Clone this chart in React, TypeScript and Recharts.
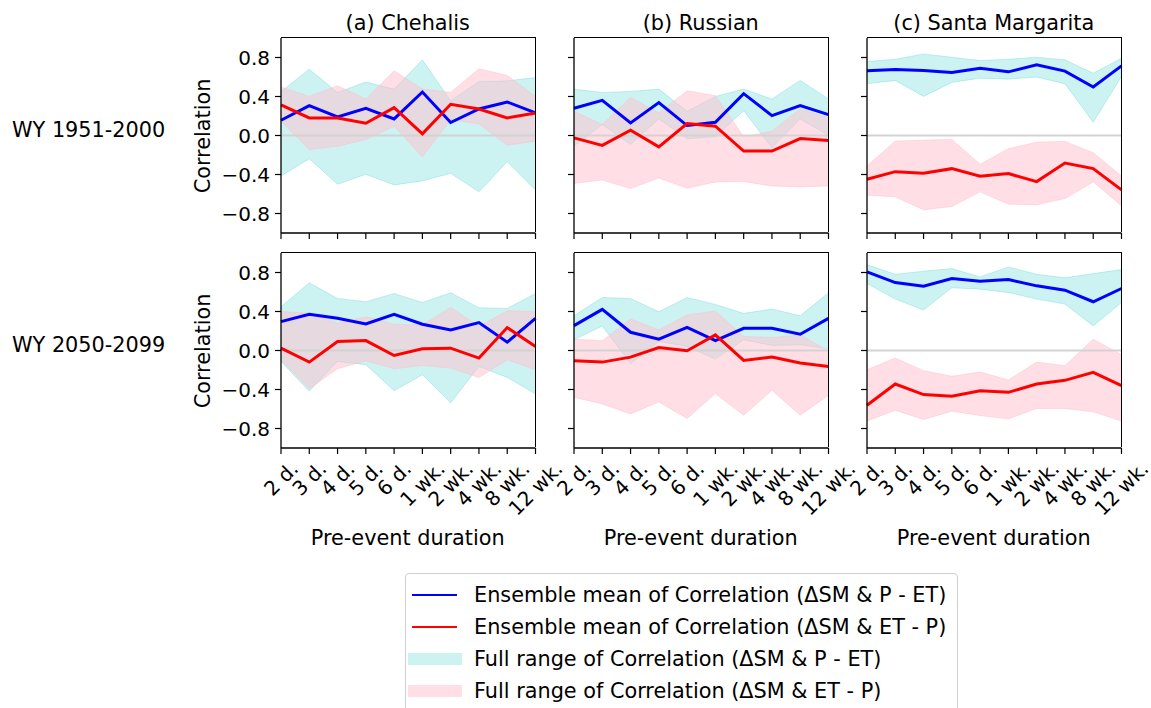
import { ComposedChart, Area, Line, XAxis, YAxis, ReferenceLine } from 'recharts';

// pre-event windows on the x axis
const durations = ['2 d.', '3 d.', '4 d.', '5 d.', '6 d.', '1 wk.', '2 wk.', '4 wk.', '8 wk.', '12 wk.'];
const corrTicks = [-0.8, -0.4, 0, 0.4, 0.8];

// Chehalis, WY 1951-2000
const cheHistPetMean = [0.156, 0.306, 0.19, 0.279, 0.17, 0.446, 0.133, 0.272, 0.344, 0.231];
const cheHistEtpMean = [0.313, 0.18, 0.18, 0.126, 0.286, 0.017, 0.32, 0.272, 0.18, 0.231];
const cheHistPetMin = [-0.415, -0.238, -0.5, -0.398, -0.507, -0.466, -0.388, -0.578, -0.269, -0.558];
const cheHistPetMax = [0.452, 0.68, 0.442, 0.548, 0.476, 0.776, 0.357, 0.554, 0.561, 0.595];
const cheHistEtpMin = [0.146, -0.143, -0.109, -0.041, 0.095, -0.218, 0.163, 0.119, -0.099, -0.058];
const cheHistEtpMax = [0.497, 0.401, 0.51, 0.374, 0.663, 0.476, 0.442, 0.684, 0.616, 0.401];

// Russian, WY 1951-2000
const rusHistPetMean = [0.279, 0.36, 0.129, 0.337, 0.102, 0.136, 0.429, 0.204, 0.306, 0.214];
const rusHistEtpMean = [-0.024, -0.102, 0.054, -0.116, 0.122, 0.095, -0.16, -0.16, -0.031, -0.051];
const rusHistPetMin = [-0.109, 0.112, -0.092, 0.17, -0.034, -0.014, 0.255, -0.126, 0.17, 0.0];
const rusHistPetMax = [0.476, 0.442, 0.452, 0.476, 0.248, 0.401, 0.476, 0.374, 0.565, 0.374];
const rusHistEtpMin = [-0.49, -0.456, -0.544, -0.435, -0.541, -0.476, -0.473, -0.517, -0.527, -0.517];
const rusHistEtpMax = [0.248, 0.112, 0.391, 0.231, 0.459, 0.408, -0.014, 0.044, 0.272, 0.18];

// Santa Margarita, WY 1951-2000
const smHistPetMean = [0.663, 0.677, 0.667, 0.646, 0.69, 0.653, 0.724, 0.66, 0.497, 0.714];
const smHistEtpMean = [-0.449, -0.371, -0.388, -0.34, -0.418, -0.391, -0.473, -0.282, -0.34, -0.558];
const smHistPetMin = [0.531, 0.565, 0.401, 0.544, 0.588, 0.578, 0.599, 0.531, 0.136, 0.605];
const smHistPetMax = [0.759, 0.782, 0.837, 0.803, 0.769, 0.782, 0.803, 0.776, 0.639, 0.793];
const smHistEtpMin = [-0.612, -0.629, -0.762, -0.728, -0.578, -0.704, -0.711, -0.646, -0.476, -0.721];
const smHistEtpMax = [-0.313, -0.058, -0.048, -0.041, -0.296, -0.136, -0.068, -0.061, -0.177, -0.415];

// Chehalis, WY 2050-2099
const cheFutPetMean = [0.296, 0.371, 0.33, 0.272, 0.371, 0.269, 0.211, 0.286, 0.085, 0.33];
const cheFutEtpMean = [0.024, -0.119, 0.092, 0.102, -0.051, 0.017, 0.024, -0.078, 0.235, 0.041];
const cheFutPetMin = [-0.112, -0.418, -0.112, -0.146, -0.412, -0.248, -0.537, -0.163, -0.276, -0.446];
const cheFutPetMax = [0.449, 0.694, 0.534, 0.5, 0.585, 0.493, 0.592, 0.439, 0.432, 0.585];
const cheFutEtpMin = [-0.1, -0.391, -0.187, -0.105, -0.187, -0.153, -0.18, -0.276, -0.095, -0.197];
const cheFutEtpMax = [0.4, 0.381, 0.279, 0.347, 0.269, 0.262, 0.442, 0.245, 0.408, 0.398];

// Russian, WY 2050-2099
const rusFutPetMean = [0.255, 0.422, 0.187, 0.116, 0.238, 0.102, 0.228, 0.228, 0.167, 0.33];
const rusFutEtpMean = [-0.105, -0.119, -0.068, 0.031, -0.003, 0.16, -0.102, -0.068, -0.129, -0.163];
const rusFutPetMin = [0.109, 0.252, -0.136, 0.092, 0.041, -0.088, 0.109, 0.051, 0.058, 0.017];
const rusFutPetMax = [0.357, 0.544, 0.534, 0.398, 0.544, 0.473, 0.381, 0.425, 0.357, 0.592];
const rusFutEtpMin = [-0.48, -0.548, -0.65, -0.527, -0.697, -0.442, -0.663, -0.408, -0.663, -0.459];
const rusFutEtpMax = [0.116, 0.099, 0.323, 0.211, 0.364, 0.405, 0.143, 0.133, 0.16, -0.003];

// Santa Margarita, WY 2050-2099
const smFutPetMean = [0.806, 0.697, 0.66, 0.738, 0.711, 0.728, 0.663, 0.619, 0.5, 0.636];
const smFutEtpMean = [-0.561, -0.344, -0.452, -0.469, -0.412, -0.429, -0.344, -0.306, -0.224, -0.361];
const smFutPetMin = [0.687, 0.527, 0.415, 0.643, 0.629, 0.595, 0.527, 0.476, 0.252, 0.493];
const smFutPetMax = [0.881, 0.782, 0.813, 0.84, 0.755, 0.857, 0.782, 0.745, 0.789, 0.83];
const smFutEtpMin = [-0.724, -0.612, -0.707, -0.622, -0.667, -0.701, -0.595, -0.595, -0.629, -0.724];
const smFutEtpMax = [-0.197, -0.078, -0.207, -0.265, -0.221, -0.303, -0.119, -0.156, 0.116, -0.044];

const basinTitles = ['(a) Chehalis', '(b) Russian', '(c) Santa Margarita'];
const periodLabels = ['WY 1951-2000', 'WY 2050-2099'];

const BLUE = '#0000ff';
const RED = '#ff0000';
const CYAN = '#00bfbf';
const PINK = '#ffc0cb';

const legendItems = [
  { kind: 'line', color: BLUE, label: 'Ensemble mean of Correlation (ΔSM & P - ET)' },
  { kind: 'line', color: RED, label: 'Ensemble mean of Correlation (ΔSM & ET - P)' },
  { kind: 'fill', color: 'rgba(0,191,191,0.2)', label: 'Full range of Correlation (ΔSM & P - ET)' },
  { kind: 'fill', color: 'rgba(255,192,203,0.5)', label: 'Full range of Correlation (ΔSM & ET - P)' },
];

type Series = { petMean: number[]; etpMean: number[]; petMin: number[]; petMax: number[]; etpMin: number[]; etpMax: number[] };

const panels: { row: number; col: number; s: Series }[] = [
  { row: 0, col: 0, s: { petMean: cheHistPetMean, etpMean: cheHistEtpMean, petMin: cheHistPetMin, petMax: cheHistPetMax, etpMin: cheHistEtpMin, etpMax: cheHistEtpMax } },
  { row: 0, col: 1, s: { petMean: rusHistPetMean, etpMean: rusHistEtpMean, petMin: rusHistPetMin, petMax: rusHistPetMax, etpMin: rusHistEtpMin, etpMax: rusHistEtpMax } },
  { row: 0, col: 2, s: { petMean: smHistPetMean, etpMean: smHistEtpMean, petMin: smHistPetMin, petMax: smHistPetMax, etpMin: smHistEtpMin, etpMax: smHistEtpMax } },
  { row: 1, col: 0, s: { petMean: cheFutPetMean, etpMean: cheFutEtpMean, petMin: cheFutPetMin, petMax: cheFutPetMax, etpMin: cheFutEtpMin, etpMax: cheFutEtpMax } },
  { row: 1, col: 1, s: { petMean: rusFutPetMean, etpMean: rusFutEtpMean, petMin: rusFutPetMin, petMax: rusFutPetMax, etpMin: rusFutEtpMin, etpMax: rusFutEtpMax } },
  { row: 1, col: 2, s: { petMean: smFutPetMean, etpMean: smFutEtpMean, petMin: smFutPetMin, petMax: smFutPetMax, etpMin: smFutEtpMin, etpMax: smFutEtpMax } },
];

// layout (page pixels)
const FONT = 'DejaVu Sans';
const FS = 20.8;
const TICK_FS = 20;
const COL_LEFT = [280.5, 573.5, 866.5];
const ROW_TOP = [38, 253];
const PLOT_W = 254.5;
const PLOT_H = 195;
const AXIS_W = 80;
const PAD = 6;
const RIGHT_PAD = 29; // room for the last rotated tick label (stays inside the page)
const SPINE = 1.3;

// DejaVu Sans advance widths (em) for the tick label characters
const charW: Record<string, number> = { ' ': 0.318, '.': 0.318, d: 0.635, w: 0.818, k: 0.579 };
const textWidth = (s: string, fs: number) =>
  s.split('').reduce((acc, ch) => acc + (charW[ch] ?? 0.636), 0) * fs;

const fmtCorr = (v: number) => (v < 0 ? '\u2212' + Math.abs(v).toFixed(1) : v.toFixed(1));

// rotated label whose bounding box is centred under the tick
function DurationTick({ x, y, payload }: any) {
  const label = String(payload.value);
  const w = textWidth(label, TICK_FS);
  const half = (w + TICK_FS) / (2 * Math.SQRT2);
  const cy = y + half;
  return (
    <g transform={`translate(${x} ${cy}) rotate(-45)`}>
      <text x={0} y={0} textAnchor="middle" dominantBaseline="central" fontSize={TICK_FS}
        fontFamily={FONT} fill="#000">
        {label}
      </text>
    </g>
  );
}

function CorrTick({ x, y, payload }: any) {
  return (
    <text x={x} y={y} textAnchor="end" dominantBaseline="central" fontSize={TICK_FS} fontFamily={FONT} fill="#000">
      {fmtCorr(payload.value)}
    </text>
  );
}

const NoTick = () => <g />;

function Panel({ row, col, s }: { row: number; col: number; s: Series }) {
  const data = durations.map((d, i) => ({
    dur: d,
    pet: s.petMean[i],
    etp: s.etpMean[i],
    petRange: [s.petMin[i], s.petMax[i]],
    etpRange: [s.etpMin[i], s.etpMax[i]],
  }));
  const xH = row === 1 ? 100 : 12;
  return (
    <>
      <div style={{ position: 'absolute', left: COL_LEFT[col] - AXIS_W, top: ROW_TOP[row] - PAD }}>
        <ComposedChart width={AXIS_W + PLOT_W + RIGHT_PAD} height={PAD + PLOT_H + xH} data={data}
          margin={{ top: PAD, right: RIGHT_PAD, left: 0, bottom: 0 }} style={{ overflow: 'visible' }}>
          <XAxis dataKey="dur" scale="point" interval={0} height={xH} tickSize={6} tickMargin={4}
            tick={row === 1 ? DurationTick : NoTick} axisLine={{ stroke: '#000', strokeWidth: SPINE }}
            tickLine={{ stroke: '#000', strokeWidth: 1.2 }} />
          <YAxis type="number" domain={[-1, 1]} ticks={corrTicks} interval={0} width={AXIS_W} tickSize={6}
            tickMargin={5} tick={col === 0 ? CorrTick : NoTick} axisLine={{ stroke: '#000', strokeWidth: SPINE }}
            tickLine={{ stroke: '#000', strokeWidth: 1.2 }} />
          <Area type="linear" dataKey="petRange" fill={CYAN} fillOpacity={0.2} stroke={CYAN} strokeOpacity={0.2}
            strokeWidth={1} dot={false} activeDot={false} isAnimationActive={false} />
          <Area type="linear" dataKey="etpRange" fill={PINK} fillOpacity={0.5} stroke={PINK} strokeOpacity={0.5}
            strokeWidth={1} dot={false} activeDot={false} isAnimationActive={false} />
          <ReferenceLine y={0} stroke="#d3d3d3" strokeWidth={2} />
          <Line type="linear" dataKey="pet" stroke={BLUE} strokeWidth={3} dot={false} activeDot={false}
            isAnimationActive={false} />
          <Line type="linear" dataKey="etp" stroke={RED} strokeWidth={3} dot={false} activeDot={false}
            isAnimationActive={false} />
        </ComposedChart>
      </div>
      {/* top and right spines */}
      <div style={{ position: 'absolute', left: COL_LEFT[col], top: ROW_TOP[row] - SPINE / 2, width: PLOT_W + SPINE / 2,
        height: PLOT_H, borderTop: `${SPINE}px solid #000`, borderRight: `${SPINE}px solid #000`,
        boxSizing: 'border-box', pointerEvents: 'none' }} />
    </>
  );
}

const centered = (left: number, top: number, extra: React.CSSProperties = {}): React.CSSProperties => ({
  position: 'absolute', left, top, transform: 'translate(-50%, -50%)', whiteSpace: 'nowrap',
  fontSize: FS, lineHeight: 1, ...extra,
});

export default function App() {
  return (
    <div style={{ position: 'absolute', left: 0, top: 0, width: 1151, height: 708, overflow: 'hidden',
      background: '#fff', fontFamily: FONT, color: '#000' }}>
      {basinTitles.map((t, c) => (
        <div key={t} style={centered(COL_LEFT[c] + PLOT_W / 2, 23)}>{t}</div>
      ))}
      {periodLabels.map((p, r) => (
        <div key={p} style={{ position: 'absolute', left: 12, top: ROW_TOP[r] + 91.5, transform: 'translateY(-50%)',
          fontSize: FS, lineHeight: 1, whiteSpace: 'nowrap' }}>{p}</div>
      ))}
      {ROW_TOP.map((t) => (
        <div key={t} style={centered(203, t + PLOT_H / 2, { transform: 'translate(-50%, -50%) rotate(-90deg)' })}>
          Correlation
        </div>
      ))}
      {COL_LEFT.map((l) => (
        <div key={l} style={centered(l + PLOT_W / 2, 538)}>Pre-event duration</div>
      ))}

      {panels.map((p) => (
        <Panel key={`${p.row}-${p.col}`} row={p.row} col={p.col} s={p.s} />
      ))}

      <div style={{ position: 'absolute', left: 405, top: 573, width: 551, height: 150, border: '1px solid #d0d0d0',
        borderRadius: 4, background: '#fff' }} />
      {legendItems.map((it, i) => {
        const cy = 595 + i * 32;
        return (
          <div key={it.label}>
            {it.kind === 'line' ? (
              <div style={{ position: 'absolute', left: 412, top: cy - 1.25, width: 45, height: 2.5, background: it.color }} />
            ) : (
              <div style={{ position: 'absolute', left: 408, top: cy - 6, width: 54, height: 12, background: it.color }} />
            )}
            <div style={{ position: 'absolute', left: 474, top: cy, transform: 'translateY(-50%)', fontSize: FS,
              lineHeight: 1, whiteSpace: 'nowrap' }}>{it.label}</div>
          </div>
        );
      })}
    </div>
  );
}
